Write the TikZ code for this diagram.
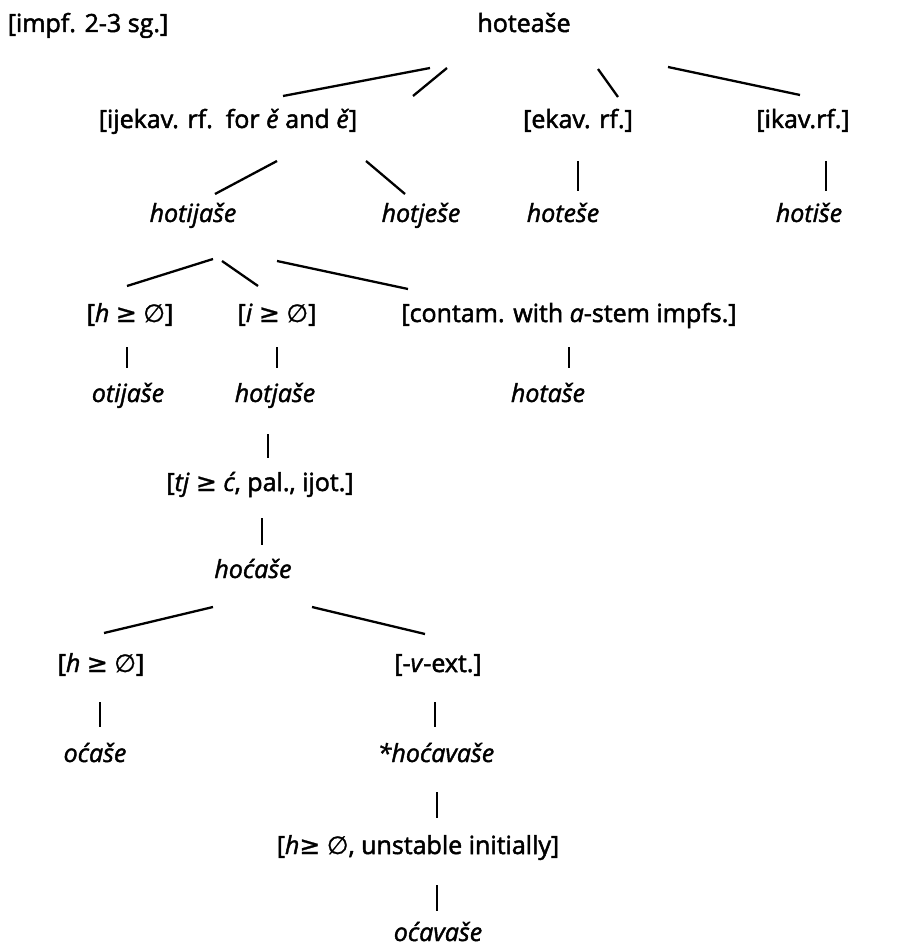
\documentclass[tikz,border=0pt]{standalone}
\usepackage{fontspec}
\setmainfont{Open Sans}[FakeBold=2,ItalicFeatures={FakeBold=1.6}]
\newfontfamily\symf{DejaVu Sans}[FakeBold=1]
\newcommand{\gsym}{{\symf ≥}}
\newcommand{\esym}{{\symf ∅}}
\begin{document}
\begin{tikzpicture}[x=1pt,y=1pt,
  lbl/.style={inner sep=0pt, text height=18pt, text depth=6pt, font=\fontsize{25}{30}\selectfont},
  form/.style={lbl, font=\fontsize{25}{30}\selectfont\itshape},
  br/.style={line width=2.3pt}]
\useasboundingbox (0,0) rectangle (899,-949);
% labels and forms
\node[lbl] (impf) at (88,-26) {[impf. 2-3 sg.]};
\node[lbl] (top) at (524,-26) {hoteaše};
\node[lbl] (ij) at (228,-122) {[ijekav. rf.\ \ for \textit{ě} and \textit{ě}]};
\node[lbl] (ek) at (578,-122) {[ekav. rf.]};
\node[lbl] (ik) at (803,-122) {[ikav.rf.]};
\node[form] (hotijase) at (193,-216) {hotijaše};
\node[form] (hotjese) at (421,-216) {hotješe};
\node[form] (hotese) at (563,-216) {hoteše};
\node[form] (hotise) at (809,-216) {hotiše};
\node[lbl] (hA) at (130,-316) {[\textit{h} \gsym\ \esym]};
\node[lbl] (iA) at (277,-316) {[\textit{i} \gsym\ \esym]};
\node[lbl] (contam) at (569,-316) {[contam. with \textit{a}-stem impfs.]};
\node[form] (otijase) at (128,-396) {otijaše};
\node[form] (hotjase) at (275,-396) {hotjaše};
\node[form] (hotase) at (548,-396) {hotaše};
\node[lbl] (tj) at (260,-485) {[\textit{tj} \gsym\ \textit{ć}, pal., ijot.]};
\node[form] (hocase) at (253,-572) {hoćaše};
\node[lbl] (hB) at (101,-666) {[\textit{h} \gsym\ \esym]};
\node[lbl] (vext) at (438,-666) {[-\textit{v}-ext.]};
\node[form] (ocase) at (95,-756) {oćaše};
\node[form] (hocavase) at (436,-756) {*hoćavaše};
\node[lbl] (unst) at (418,-848) {[\textit{h}\gsym\ \esym, unstable initially]};
\node[form] (ocavase) at (438,-935) {oćavaše};
% connectors
\draw[br] ([shift={(-94,-42)}]top.center) -- ([shift={(55,26)}]ij.center);
\draw[br] ([shift={(-77,-42)}]top.center) -- ([shift={(185,26)}]ij.center);
\draw[br] ([shift={(74,-43)}]top.center) -- ([shift={(40,25)}]ek.center);
\draw[br] ([shift={(144,-41)}]top.center) -- ([shift={(-3,27)}]ik.center);
\draw[br] ([shift={(49,-39)}]ij.center) -- ([shift={(22,22)}]hotijase.center);
\draw[br] ([shift={(138,-39)}]ij.center) -- ([shift={(-16,22)}]hotjese.center);
\draw[br] ([shift={(0,-39)}]ek.center) -- ([shift={(15,25)}]hotese.center);
\draw[br] ([shift={(23,-39)}]ik.center) -- ([shift={(17,25)}]hotise.center);
\draw[br] ([shift={(20,-43)}]hotijase.center) -- ([shift={(-3,30)}]hA.center);
\draw[br] ([shift={(29,-45)}]hotijase.center) -- ([shift={(-19,30)}]iA.center);
\draw[br] ([shift={(84,-45)}]hotijase.center) -- ([shift={(-161,27)}]contam.center);
\draw[br] ([shift={(-3,-31)}]hA.center) -- ([shift={(-1,28)}]otijase.center);
\draw[br] ([shift={(0,-31)}]iA.center) -- ([shift={(2,28)}]hotjase.center);
\draw[br] ([shift={(0,-31)}]contam.center) -- ([shift={(21,28)}]hotase.center);
\draw[br] ([shift={(-7,-38)}]hotjase.center) -- ([shift={(8,27)}]tj.center);
\draw[br] ([shift={(2,-33)}]tj.center) -- ([shift={(9,27)}]hocase.center);
\draw[br] ([shift={(-40,-35)}]hocase.center) -- ([shift={(3,33)}]hB.center);
\draw[br] ([shift={(59,-35)}]hocase.center) -- ([shift={(-13,32)}]vext.center);
\draw[br] ([shift={(-1,-36)}]hB.center) -- ([shift={(5,29)}]ocase.center);
\draw[br] ([shift={(-3,-36)}]vext.center) -- ([shift={(-1,29)}]hocavase.center);
\draw[br] ([shift={(1,-36)}]hocavase.center) -- ([shift={(19,30)}]unst.center);
\draw[br] ([shift={(19,-37)}]unst.center) -- ([shift={(-1,24)}]ocavase.center);
\end{tikzpicture}
\end{document}
